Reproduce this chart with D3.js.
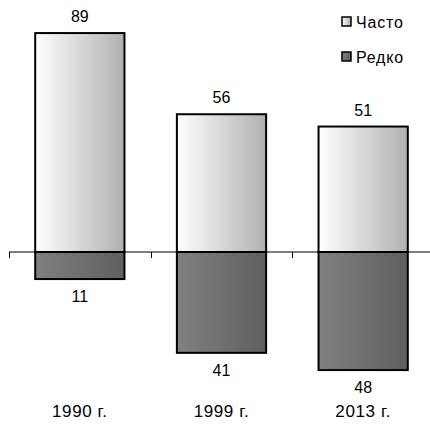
<!DOCTYPE html>
<html>
<head>
<meta charset="utf-8">
<script src="https://cdn.jsdelivr.net/npm/d3@7"></script>
<style>
  body { margin: 0; background: #fff; }
  text { font-family: "Liberation Sans", Arial, sans-serif; fill: #000; }
</style>
</head>
<body>
<svg id="chart"></svg>
<script>
var years = ['1990 г.', '1999 г.', '2013 г.'];
var often = [89, 56, 51];
var rarely = [11, 41, 48];
var seriesNames = ['Часто', 'Редко'];

var width = 430, height = 434;
var zeroY = 252;

var svg = d3.select('#chart')
  .attr('width', width)
  .attr('height', height);

var defs = svg.append('defs');
var gLight = defs.append('linearGradient').attr('id', 'light');
gLight.append('stop').attr('offset', '0%').attr('stop-color', '#ffffff');
gLight.append('stop').attr('offset', '100%').attr('stop-color', '#b0b0b0');
var gDark = defs.append('linearGradient').attr('id', 'dark');
gDark.append('stop').attr('offset', '0%').attr('stop-color', '#808080');
gDark.append('stop').attr('offset', '100%').attr('stop-color', '#5f5f5f');

var x = d3.scaleBand()
  .domain(years)
  .range([9, 434])
  .paddingInner(0.37)
  .paddingOuter(0.185);

// one unit ~ 2.46 px
var y = d3.scaleLinear()
  .domain([-60, 90])
  .range([zeroY + 60 * 2.46, zeroY - 90 * 2.46]);

// bars
svg.selectAll('rect.often')
  .data(often)
  .enter()
  .append('rect')
  .attr('class', 'often')
  .attr('x', function(d, i){ return x(years[i]); })
  .attr('y', function(d){ return y(d); })
  .attr('width', x.bandwidth())
  .attr('height', function(d){ return y(0) - y(d); })
  .style('fill', 'url(#light)')
  .style('stroke', '#000')
  .style('stroke-width', 2);

svg.selectAll('rect.rarely')
  .data(rarely)
  .enter()
  .append('rect')
  .attr('class', 'rarely')
  .attr('x', function(d, i){ return x(years[i]); })
  .attr('y', y(0))
  .attr('width', x.bandwidth())
  .attr('height', function(d){ return y(-d) - y(0); })
  .style('fill', 'url(#dark)')
  .style('stroke', '#000')
  .style('stroke-width', 2);

// zero axis line with category ticks
svg.append('line')
  .attr('x1', 9).attr('x2', width)
  .attr('y1', y(0)).attr('y2', y(0))
  .style('stroke', '#000')
  .style('stroke-width', 1);

var tickXs = years.map(function(d){ return x(d) - (x.step() - x.bandwidth()) / 2; });
svg.selectAll('line.tick')
  .data(tickXs)
  .enter()
  .append('line')
  .attr('class', 'tick')
  .attr('x1', function(d){ return Math.round(d) + 0.5; })
  .attr('x2', function(d){ return Math.round(d) + 0.5; })
  .attr('y1', y(0))
  .attr('y2', y(0) + 6)
  .style('stroke', '#000')
  .style('stroke-width', 1);

// value labels
svg.selectAll('text.vOften')
  .data(often)
  .enter()
  .append('text')
  .attr('x', function(d, i){ return x(years[i]) + x.bandwidth() / 2; })
  .attr('y', function(d){ return y(d) - 11; })
  .attr('text-anchor', 'middle')
  .style('font-size', '16px')
  .text(function(d){ return d; });

svg.selectAll('text.vRarely')
  .data(rarely)
  .enter()
  .append('text')
  .attr('x', function(d, i){ return x(years[i]) + x.bandwidth() / 2; })
  .attr('y', function(d){ return y(-d) + 23; })
  .attr('text-anchor', 'middle')
  .style('font-size', '16px')
  .text(function(d){ return d; });

// category labels
svg.selectAll('text.cat')
  .data(years)
  .enter()
  .append('text')
  .attr('x', function(d){ return x(d) + x.bandwidth() / 2; })
  .attr('y', 417)
  .attr('text-anchor', 'middle')
  .style('font-size', '17px')
  .style('letter-spacing', '0.6px')
  .text(function(d){ return d; });

// legend
var legend = svg.selectAll('g.legend')
  .data(seriesNames)
  .enter()
  .append('g')
  .attr('class', 'legend')
  .attr('transform', function(d, i){ return 'translate(342,' + (17 + i * 35) + ')'; });

legend.append('rect')
  .attr('width', 9)
  .attr('height', 9)
  .style('fill', function(d, i){ return i === 0 ? 'url(#light)' : 'url(#dark)'; })
  .style('stroke', '#000')
  .style('stroke-width', 1.5);

legend.append('text')
  .attr('x', 14)
  .attr('y', 11)
  .style('font-size', '16px')
  .style('letter-spacing', '0.8px')
  .text(function(d){ return d; });
</script>
</body>
</html>
